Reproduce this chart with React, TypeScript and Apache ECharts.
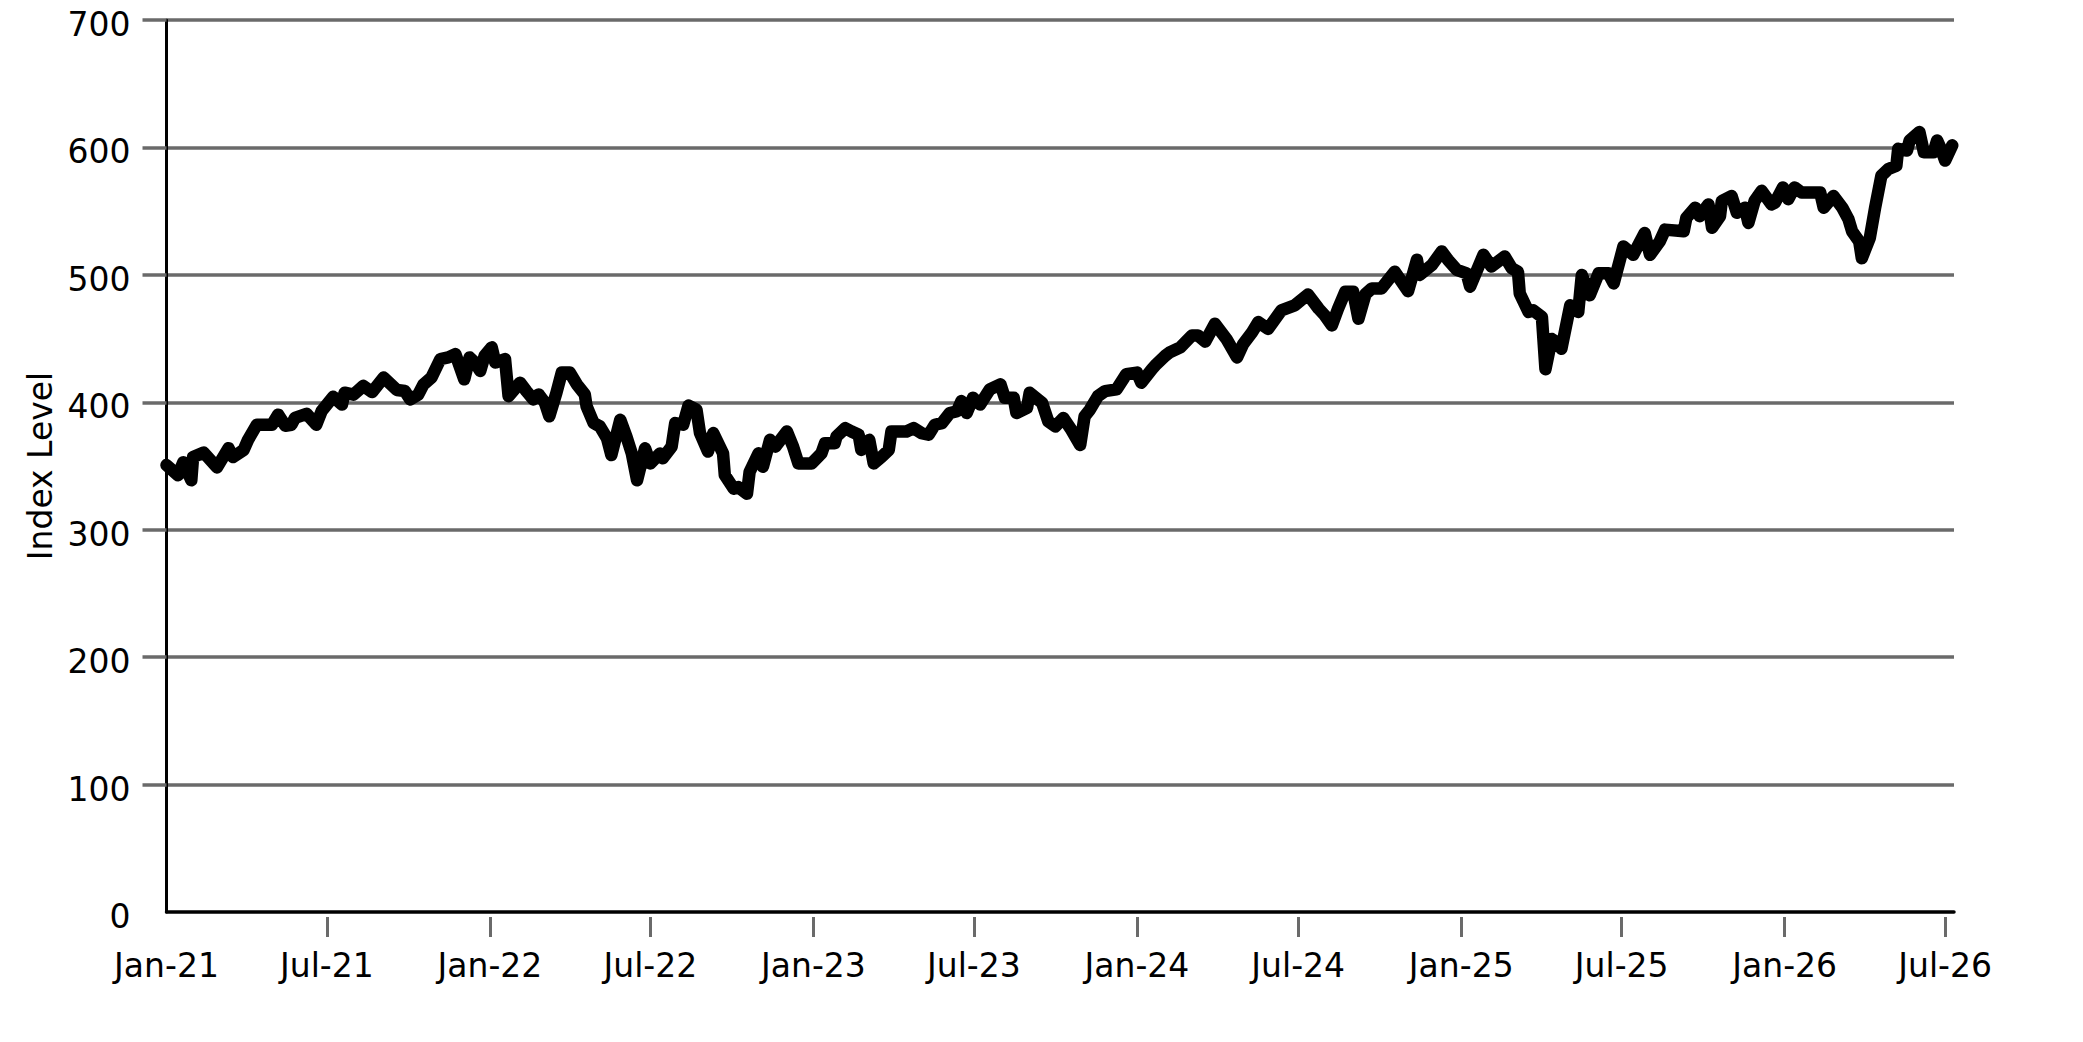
import React, { useEffect, useRef } from "react";
import * as echarts from "echarts";

const dates = [
  "2021-01-01","2021-01-14","2021-01-20","2021-01-29","2021-01-31","2021-02-12","2021-02-27","2021-03-12","2021-03-17","2021-03-29",
  "2021-04-03","2021-04-13","2021-04-30","2021-05-07","2021-05-15","2021-05-22","2021-05-26","2021-06-08","2021-06-19","2021-06-25",
  "2021-07-08","2021-07-18","2021-07-21","2021-07-31","2021-08-11","2021-08-21","2021-09-03","2021-09-18","2021-09-27","2021-10-03",
  "2021-10-12","2021-10-18","2021-10-27","2021-11-06","2021-11-15","2021-11-23","2021-12-03","2021-12-09","2021-12-15","2021-12-21",
  "2021-12-26","2022-01-03","2022-01-07","2022-01-18","2022-01-22","2022-02-04","2022-02-11","2022-02-19","2022-02-25","2022-03-04",
  "2022-03-09","2022-03-17","2022-03-23","2022-04-01","2022-04-09","2022-04-18","2022-04-20","2022-04-28","2022-05-05","2022-05-13",
  "2022-05-18","2022-05-28","2022-06-04","2022-06-10","2022-06-16","2022-06-25","2022-07-01","2022-07-12","2022-07-15","2022-07-25",
  "2022-07-29","2022-08-07","2022-08-13","2022-08-22","2022-08-26","2022-09-04","2022-09-10","2022-09-21","2022-09-23","2022-10-03",
  "2022-10-08","2022-10-18","2022-10-21","2022-10-31","2022-11-05","2022-11-13","2022-11-19","2022-12-02","2022-12-09","2022-12-15",
  "2022-12-30","2023-01-10","2023-01-14","2023-01-25","2023-01-27","2023-02-06","2023-02-13","2023-02-21","2023-02-24","2023-03-05",
  "2023-03-10","2023-03-19","2023-03-27","2023-03-30","2023-04-16","2023-04-24","2023-05-03","2023-05-11","2023-05-18","2023-05-26",
  "2023-06-04","2023-06-12","2023-06-17","2023-06-23","2023-06-30","2023-07-08","2023-07-19","2023-07-31","2023-08-05","2023-08-15",
  "2023-08-18","2023-08-30","2023-09-02","2023-09-16","2023-09-23","2023-10-01","2023-10-10","2023-10-19","2023-10-29","2023-11-03",
  "2023-11-09","2023-11-18","2023-11-26","2023-12-09","2023-12-20","2024-01-01","2024-01-06","2024-01-18","2024-01-23","2024-02-02",
  "2024-02-07","2024-02-19","2024-03-03","2024-03-10","2024-03-18","2024-03-29","2024-04-11","2024-04-23","2024-04-30","2024-05-10",
  "2024-05-17","2024-05-28","2024-06-12","2024-06-27","2024-07-12","2024-07-24","2024-07-31","2024-08-08","2024-08-15","2024-08-23",
  "2024-09-01","2024-09-07","2024-09-15","2024-09-22","2024-10-03","2024-10-18","2024-11-02","2024-11-12","2024-11-15","2024-11-29",
  "2024-12-10","2024-12-17","2024-12-27","2025-01-07","2025-01-11","2025-01-26","2025-02-04","2025-02-19","2025-02-27","2025-03-06",
  "2025-03-08","2025-03-18","2025-03-23","2025-04-02","2025-04-06","2025-04-13","2025-04-19","2025-04-24","2025-05-04","2025-05-13",
  "2025-05-17","2025-05-26","2025-06-05","2025-06-16","2025-06-22","2025-07-03","2025-07-14","2025-07-27","2025-08-02","2025-08-13",
  "2025-08-19","2025-09-09","2025-09-12","2025-09-22","2025-09-27","2025-10-07","2025-10-11","2025-10-20","2025-10-22","2025-11-02",
  "2025-11-08","2025-11-17","2025-11-21","2025-11-28","2025-12-06","2025-12-17","2025-12-21","2025-12-30","2026-01-05","2026-01-12",
  "2026-01-20","2026-02-10","2026-02-14","2026-02-25","2026-03-07","2026-03-14","2026-03-18","2026-03-26","2026-03-29","2026-04-07",
  "2026-04-13","2026-04-20","2026-04-28","2026-05-07","2026-05-09","2026-05-19","2026-05-22","2026-06-02","2026-06-07","2026-06-18",
  "2026-06-22","2026-06-27","2026-07-01","2026-07-09",
];

const values = [
  350.7,342.8,353,338.8,357,360.5,348.9,364,357,362.6,
  370.5,382.4,382.4,390.3,381.6,382.4,387.7,391,382.4,393,
  404.3,398.2,407.5,406,412.8,408,419.4,409.6,408.8,402.2,
  406,414,419.4,433.9,435.2,437.8,418,435.2,431.2,424.6,
  436.5,443.1,431.2,433.9,404.8,415.4,408.8,402.2,406.2,399.6,
  389,407.5,423.3,423.3,414.1,406.2,396.9,383.7,381.1,371.8,
  358.6,386.3,373.1,359.9,338.8,363.9,352,359.9,356,365.2,
  383.7,382.4,397.4,394.3,375.8,361.3,375.8,359.9,342.8,332.2,
  333.5,328.3,345.4,359.9,349.4,370.5,365.2,377.1,365.2,352,
  352,359.9,367.9,367.9,373.1,379.7,377.1,374.5,362.6,370.5,
  352,357.3,362.6,377.1,377.1,379.7,375.8,374.5,382.4,383.7,
  391.6,393,400.9,391.6,403.5,398.2,410.1,414.1,403.5,403.5,
  391.6,395.6,407.5,399.6,385,381.1,387.7,378.4,366.5,389,
  394.3,404.8,408.8,410.1,422,423.3,415.4,426,429.9,436.5,
  439.2,443.1,452.4,452.4,447.6,461.6,449.7,435.2,445.8,455,
  462.9,457.6,472.2,476.1,484.6,473.5,468.2,460.3,473.5,486.7,
  486.7,465.6,485,489.3,489.3,502.5,487.2,511.8,499.9,507.8,
  518.4,511.8,503.9,501.2,490.7,515.7,506.5,514.4,505.2,502.5,
  485.4,470.8,472.2,466.9,426,449.7,447.1,442,476.1,470.8,
  499.9,484,501.2,501.2,493.3,522.3,515.7,532.9,515.7,526.3,
  535.5,534.2,544.8,552.7,546.1,555.3,536.9,546.1,558,561.9,
  548.7,552.7,540.8,558,565.9,555.3,556.7,568.6,559.4,568.6,
  564.6,564.6,552.7,561.9,552.7,543.5,534.2,526.3,513.1,528.9,
  552.7,577.7,583.1,585.7,598.9,597.6,605.5,612.1,596.3,596.3,
  605.5,597.6,589.7,601.6,
];

const tickDates = [
  "2021-01-01","2021-07-01","2022-01-01","2022-07-01","2023-01-01","2023-07-01",
  "2024-01-01","2024-07-01","2025-01-01","2025-07-01","2026-01-01","2026-07-01",
];
const tickLabels = [
  "Jan-21","Jul-21","Jan-22","Jul-22","Jan-23","Jul-23",
  "Jan-24","Jul-24","Jan-25","Jul-25","Jan-26","Jul-26",
];
const xStart = "2021-01-01";
const xEnd = "2026-07-11";
const yTickMarks = [100, 200, 300, 400, 500, 600, 700];

const FONT = "DejaVu Sans";
const GRID_GRAY = "#6a6a6a";

function ts(s: string): number {
  const [y, m, d] = s.split("-").map(Number);
  return Date.UTC(y, m - 1, d);
}

export default function App() {
  const ref = useRef<HTMLDivElement>(null);

  useEffect(() => {
    if (!ref.current) return;
    const chart = echarts.init(ref.current, undefined, { renderer: "svg" });
    const tickTs = tickDates.map(ts);
    const tickMarkTs = tickTs.slice(1);
    const fmt = (v: number) => {
      let best = -1;
      let bd = Infinity;
      tickTs.forEach((t, i) => {
        const dd = Math.abs(t - v);
        if (dd < bd) {
          bd = dd;
          best = i;
        }
      });
      return bd < 86400000 * 2 ? tickLabels[best] : "";
    };
    chart.setOption({
      animation: false,
      backgroundColor: "#ffffff",
      grid: { left: 166.5, right: 129, top: 20, bottom: 130, containLabel: false },
      xAxis: [
        {
          type: "value",
          min: ts(xStart),
          max: ts(xEnd),
          position: "bottom",
          axisLine: { show: true, onZero: false, lineStyle: { color: "#000", width: 3.5 } },
          axisTick: { show: false },
          axisLabel: { show: false },
          splitLine: { show: false },
        },
        {
          type: "value",
          min: ts(xStart),
          max: ts(xEnd),
          position: "bottom",
          offset: 5,
          axisLine: { show: false, onZero: false },
          axisTick: {
            show: true,
            customValues: tickMarkTs,
            length: 20,
            lineStyle: { color: GRID_GRAY, width: 3 },
          },
          axisLabel: {
            show: true,
            customValues: tickTs,
            formatter: fmt,
            margin: 32,
            fontSize: 33,
            color: "#000",
            fontFamily: FONT,
            showMinLabel: true,
            showMaxLabel: true,
          },
          splitLine: { show: false },
        },
      ],
      yAxis: {
        type: "value",
        min: 0,
        max: 700,
        interval: 100,
        name: "Index Level",
        nameLocation: "middle",
        nameGap: 106,
        nameTextStyle: { fontSize: 33, color: "#000", fontFamily: FONT },
        axisLine: { show: true, lineStyle: { color: "#000", width: 3 } },
        axisTick: {
          show: true,
          customValues: yTickMarks,
          length: 24,
          lineStyle: { color: GRID_GRAY, width: 3.5 },
        },
        axisLabel: {
          margin: 36,
          fontSize: 33,
          color: "#000",
          fontFamily: FONT,
          verticalAlign: "top",
          padding: [-12, 0, 0, 0],
        },
        splitLine: { show: true, lineStyle: { color: GRID_GRAY, width: 3.5 } },
      },
      series: [
        {
          type: "line",
          xAxisIndex: 0,
          yAxisIndex: 0,
          data: dates.map((d, i) => [ts(d), values[i]]),
          showSymbol: false,
          symbol: "none",
          lineStyle: { color: "#000", width: 12.5, cap: "round", join: "round" },
        },
      ],
    });
    return () => chart.dispose();
  }, []);

  return (
    <div
      ref={ref}
      style={{ position: "fixed", left: 0, top: 0, width: "100vw", height: "100vh", background: "#fff" }}
    />
  );
}
